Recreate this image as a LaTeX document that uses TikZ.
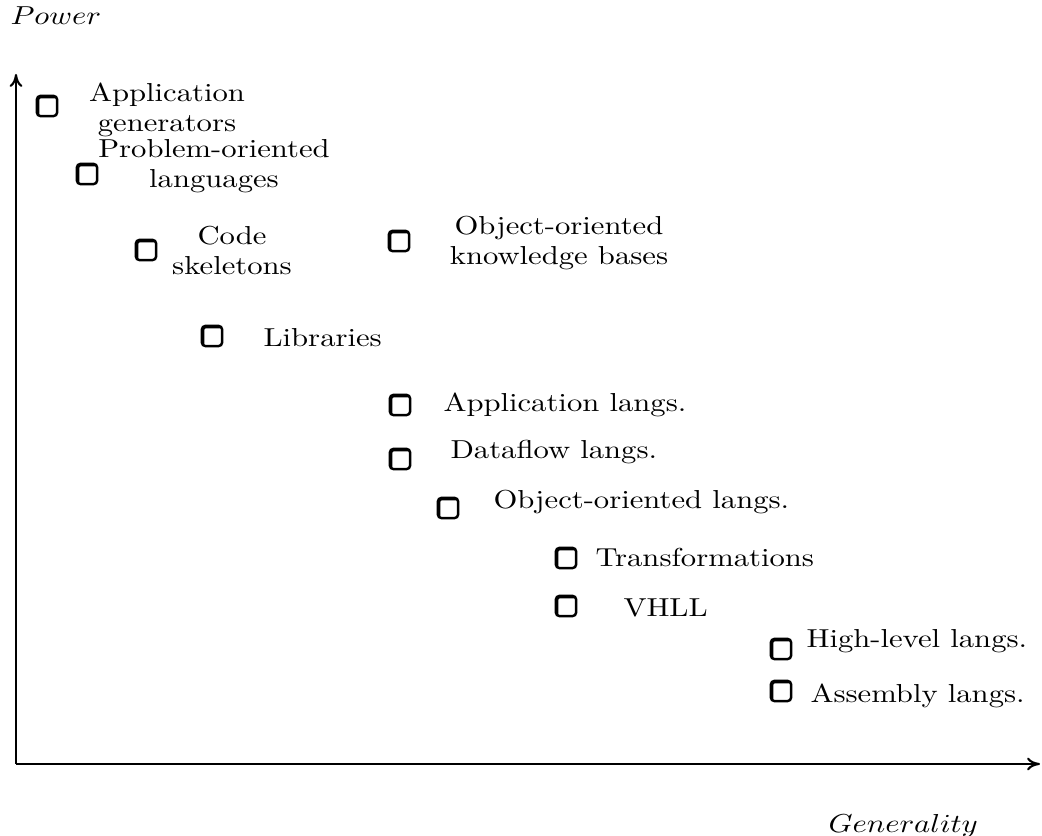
\documentclass[tikz,border=0pt]{standalone}
\usepackage{graphicx}
\usetikzlibrary{arrows.meta}

% Labels are set slightly wide, as in the printed chart
\newcommand{\wtxt}[1]{\scalebox{1.18}[1]{#1}}
\newcommand{\twoline}[2]{\wtxt{\renewcommand{\arraystretch}{0.96}\begin{tabular}[t]{@{}c@{}}#1\\#2\end{tabular}}}

\tikzset{
  marker/.style={draw=black, line width=0.95pt, rounded corners=1.4pt,
    minimum size=7.8pt, inner sep=0pt,
    path picture={\draw[line width=1.9pt]
      (path picture bounding box.south west) -- (path picture bounding box.north west)
      -- (path picture bounding box.north east);}},
  lbl/.style={inner sep=0pt, anchor=base west},
  clbl/.style={inner sep=0pt, anchor=base},
  axis/.style={line width=0.8pt, -{To[length=5pt,width=5pt]}}
}

\begin{document}
\begin{tikzpicture}[x=0.385pt, y=-0.385pt]
  \useasboundingbox (0,0) rectangle (1042,836);

  % axes
  \coordinate (origin) at (16,764);
  \coordinate (ytip) at (16,74);
  \coordinate (xtip) at (1040,764);
  \draw[axis] (origin) -- (ytip);
  \draw[axis] (origin) -- (xtip);
  \node[lbl] (ylab) at (10,25) {\wtxt{$Power$}};
  \node[lbl] (xlab) at (828,833) {\wtxt{$Generality$}};

  % markers
  \node[marker] (b1)  at (47,106) {};
  \node[marker] (b2)  at (87,174) {};
  \node[marker] (b3)  at (146,250) {};
  \node[marker] (b4)  at (399,241) {};
  \node[marker] (b5)  at (212,336) {};
  \node[marker] (b6)  at (400,405) {};
  \node[marker] (b7)  at (400,459) {};
  \node[marker] (b8)  at (448,508) {};
  \node[marker] (b9)  at (566,558) {};
  \node[marker] (b10) at (566,606) {};
  \node[marker] (b11) at (781,649) {};
  \node[marker] (b12) at (781,691) {};

  % labels
  \node[clbl] (l1) at (167,102) {\twoline{Application}{generators}};
  \node[clbl] (l2) at (214,158) {\twoline{Problem-oriented}{languages}};
  \node[clbl] (l3) at (232,245) {\twoline{Code}{skeletons}};
  \node[clbl] (l4) at (559,235) {\twoline{Object-oriented}{knowledge bases}};
  \node[lbl] (l5)  at (263,347) {\wtxt{Libraries}};
  \node[lbl] (l6)  at (443,412) {\wtxt{Application langs.}};
  \node[lbl] (l7)  at (450,459) {\wtxt{Dataflow langs.}};
  \node[lbl] (l8)  at (493,509) {\wtxt{Object-oriented langs.}};
  \node[lbl] (l9)  at (595,567) {\wtxt{Transformations}};
  \node[lbl] (l10) at (623,617) {\wtxt{VHLL}};
  \node[lbl] (l11) at (806,648) {\wtxt{High-level langs.}};
  \node[lbl] (l12) at (810,703) {\wtxt{Assembly langs.}};
\end{tikzpicture}
\end{document}
